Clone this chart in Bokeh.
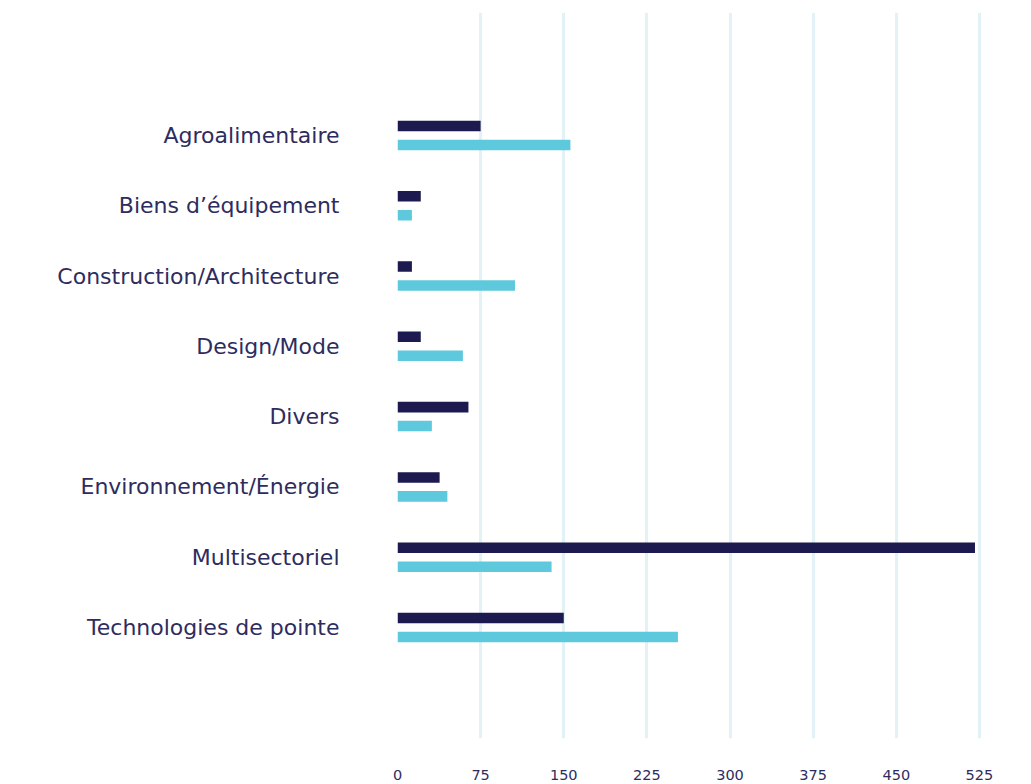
from bokeh.plotting import figure
from bokeh.models import Range1d, FixedTicker, ColumnDataSource
from bokeh.transform import dodge
from bokeh.embed import file_html
from bokeh.resources import INLINE

categories = ["Agroalimentaire", "Biens d\u2019\u00e9quipement", "Construction/Architecture",
              "Design/Mode", "Divers", "Environnement/\u00c9nergie", "Multisectoriel",
              "Technologies de pointe"]
series_dark = [75, 21, 13, 21, 64, 38, 521, 150]
series_light = [156, 13, 106, 59, 31, 45, 139, 253]
x_ticks = [0, 75, 150, 225, 300, 375, 450, 525]

idx = list(range(len(categories)))
src = ColumnDataSource(dict(y=idx, dark=series_dark, light=series_light))

p = figure(width=1031, height=784, output_backend="svg", toolbar_location=None,
           x_range=Range1d(0, 535), y_range=Range1d(len(categories) + 0.58, -1.75),
           min_border_left=397, min_border_right=41, min_border_top=12, min_border_bottom=46)
p.outline_line_color = None
p.background_fill_color = "white"
p.border_fill_color = "white"

p.hbar(y=dodge("y", -0.135), right="dark", left=0, height=0.15, source=src,
       fill_color="#1c1a4f", line_color=None)
p.hbar(y=dodge("y", 0.135), right="light", left=0, height=0.15, source=src,
       fill_color="#5ec9dd", line_color=None)

p.xaxis.ticker = FixedTicker(ticks=x_ticks)
p.xgrid.ticker = FixedTicker(ticks=x_ticks)
p.xgrid.grid_line_color = "#e3f2f7"
p.xgrid.grid_line_width = 3
p.ygrid.grid_line_color = None

p.xaxis.axis_line_color = None
p.xaxis.major_tick_line_color = None
p.xaxis.minor_tick_line_color = None
p.xaxis.major_tick_out = 0
p.xaxis.major_label_standoff = 31
p.xaxis.major_label_text_font = "DejaVu Sans"
p.xaxis.major_label_text_font_size = "14.5px"
p.xaxis.major_label_text_color = "#2e2c5e"

p.yaxis.ticker = FixedTicker(ticks=idx)
p.yaxis.major_label_overrides = {i: c for i, c in zip(idx, categories)}
p.yaxis.axis_line_color = None
p.yaxis.major_tick_line_color = None
p.yaxis.minor_tick_line_color = None
p.yaxis.major_tick_out = 0
p.yaxis.major_label_standoff = 58
p.yaxis.major_label_text_font = "DejaVu Sans"
p.yaxis.major_label_text_font_size = "22px"
p.yaxis.major_label_text_color = "#2e2c5e"

open("out.html", "w").write(file_html(p, INLINE))
